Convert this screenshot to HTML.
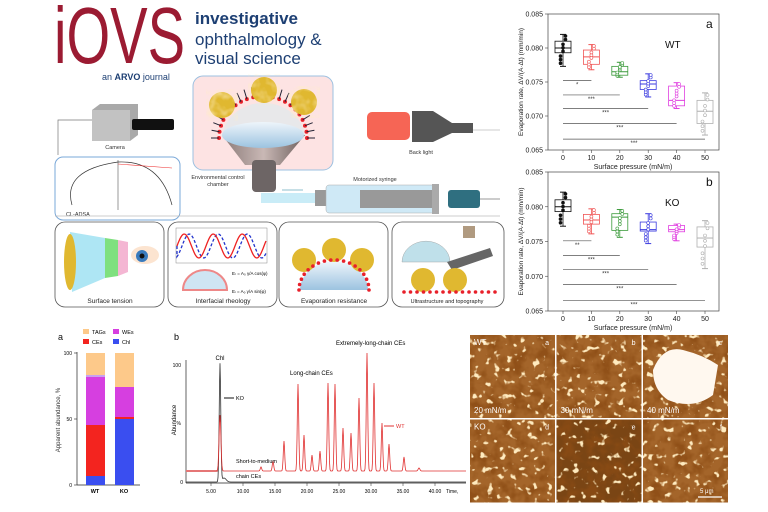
<!DOCTYPE html>
<html><head><meta charset="utf-8"><style>
html,body{margin:0;padding:0;background:#fff}
svg{display:block}
text{font-family:"Liberation Sans",sans-serif}
</style></head><body>
<svg id="s" width="768" height="512" viewBox="0 0 768 512" xmlns="http://www.w3.org/2000/svg">
<defs>
<filter id="afm" x="0" y="0" width="100%" height="100%" color-interpolation-filters="sRGB">
<feTurbulence type="fractalNoise" baseFrequency="0.08" numOctaves="3" seed="3"/>
<feColorMatrix type="matrix" values="0 0 0 0 0.55  0 0 0 0 0.3  0 0 0 0 0.08  3 0 0 0 -1.2"/>
</filter>
<filter id="afm2" x="0" y="0" width="100%" height="100%" color-interpolation-filters="sRGB">
<feTurbulence type="fractalNoise" baseFrequency="0.15" numOctaves="2" seed="11"/>
<feColorMatrix type="matrix" values="0 0 0 0 1  0 0 0 0 0.92  0 0 0 0 0.75  9 0 0 0 -5.6"/>
</filter>
<filter id="tex"><feTurbulence type="fractalNoise" baseFrequency="0.12" numOctaves="2" seed="7"/>
<feColorMatrix type="matrix" values="0 0 0 0 1  0 0 0 0 0.85  0 0 0 0 0.55  2.2 0 0 0 -0.9"/></filter>
<linearGradient id="drop" x1="0" y1="0" x2="0" y2="1"><stop offset="0" stop-color="#eef5fb"/><stop offset="1" stop-color="#9cc3e0"/></linearGradient>
<linearGradient id="funnel" x1="0" y1="0" x2="1" y2="0"><stop offset="0" stop-color="#8a7a78"/><stop offset="0.5" stop-color="#c9b8b5"/><stop offset="1" stop-color="#6d5f5d"/></linearGradient>
</defs>
<g id="g"></g>
<text x="54" y="63" font-size="80" fill="#9b1b32" textLength="131" lengthAdjust="spacingAndGlyphs">iOVS</text>
<text x="195" y="24" font-size="17" font-weight="bold" fill="#1d3f73">investigative</text>
<text x="195" y="45" font-size="17" fill="#1d3f73">ophthalmology &amp;</text>
<text x="195" y="64" font-size="17" fill="#1d3f73">visual science</text>
<text x="102" y="80" font-size="9" fill="#1d3f73">an <tspan font-weight="bold">ARVO</tspan> journal</text>
</svg>
<script>
const g=document.getElementById('g');let h='';
function add(s){h+=s}
add('<rect x="193" y="76" width="140" height="94" rx="10" fill="#fde3e3" stroke="#9cc0e0"/>');
add('<path d="M222,135 Q262,118 305,135 L280,165 L245,165 Z" fill="url(#funnel)"/>');
add('<rect x="252" y="160" width="24" height="32" rx="4" fill="#6d6565"/>');
add('<path d="M222,135 A42,38 0 0 1 305,135 Z" fill="#e8e8ea"/>');
add('<ellipse cx="263" cy="135" rx="41" ry="13" fill="url(#drop)"/>');
for(let i=0;i<22;i++){let a=Math.PI*(1-i/21);let x=263+44*Math.cos(a),y=138-44*Math.sin(a)*0.95;add('<circle cx="'+x.toFixed(1)+'" cy="'+y.toFixed(1)+'" r="2" fill="#e8202a"/>');add('<line x1="'+x+'" y1="'+y+'" x2="'+(263+52*Math.cos(a))+'" y2="'+(138-52*Math.sin(a))+'" stroke="#223" stroke-width="1"/>')}
[[222,105],[264,90],[304,102]].forEach(p=>add('<circle cx="'+p[0]+'" cy="'+p[1]+'" r="13" fill="#e0b830"/><circle cx="'+p[0]+'" cy="'+p[1]+'" r="13" filter="url(#tex)" opacity=".6"/>'));
add('<text x="218" y="179" font-size="5.5" fill="#333" text-anchor="middle">Environmental control</text><text x="218" y="186" font-size="5.5" fill="#333" text-anchor="middle">chamber</text>');
add('<polyline points="58,155 58,120 92,120" fill="none" stroke="#777" stroke-width="0.7"/>');
add('<polygon points="92,110 100,104 138,104 138,135 130,141 92,141" fill="#a9a9a9"/><rect x="92" y="110" width="38" height="31" fill="#c2c2c2"/><rect x="132" y="119" width="42" height="11" rx="2" fill="#111"/>');
add('<text x="115" y="149" font-size="5.5" fill="#333" text-anchor="middle">Camera</text>');
add('<rect x="55" y="157" width="125" height="63" rx="8" fill="#fff" stroke="#7aa8d8"/>');
add('<path d="M72,205 Q62,170 118,162 Q160,160 172,205" fill="none" stroke="#333" stroke-width="0.7"/><line x1="118" y1="160" x2="118" y2="210" stroke="#333" stroke-width="0.5"/><line x1="118" y1="164" x2="172" y2="168" stroke="#e33" stroke-width="0.6"/>');
add('<text x="66" y="216" font-size="5.5" fill="#333">CL-ADSA</text>');
add('<rect x="367" y="112" width="43" height="28" rx="5" fill="#f66555"/><polygon points="412,111 433,111 452,123 473,123 473,133 452,133 433,142 412,142" fill="#555"/><line x1="473" y1="130" x2="500" y2="130" stroke="#999" stroke-width="0.5"/>');
add('<text x="421" y="154" font-size="5.5" fill="#333" text-anchor="middle">Back light</text>');
add('<text x="375" y="181" font-size="5.5" fill="#333" text-anchor="middle">Motorized syringe</text>');
add('<rect x="261" y="193" width="55" height="10" fill="#c9ecf7"/><line x1="282" y1="190" x2="303" y2="190" stroke="#6ab" stroke-width="0.7"/>');
add('<rect x="315" y="190" width="18" height="16" fill="#999"/><rect x="326" y="185" width="110" height="28" rx="3" fill="#cfe9f6" stroke="#aaa" stroke-width="0.5"/><rect x="360" y="190" width="76" height="18" fill="#999"/><rect x="432" y="184" width="7" height="30" fill="#aaa"/><rect x="448" y="190" width="32" height="18" rx="3" fill="#2f6f80"/><line x1="480" y1="199" x2="500" y2="199" stroke="#999"/>');
add('<line x1="55" y1="216" x2="500" y2="216" stroke="#bbb" stroke-width="0.8"/>');
const P=[[55,"Surface tension"],[168,"Interfacial rheology"],[279,"Evaporation resistance"],[392,"Ultrastructure and topography"]];
P.forEach((p,i)=>{add('<rect x="'+p[0]+'" y="222" width="'+(i==3?112:109)+'" height="85" rx="10" fill="#fff" stroke="#555" stroke-width="0.8"/>');add('<text x="'+(p[0]+55)+'" y="303" font-size="'+(i==3?5.5:6.5)+'" fill="#222" text-anchor="middle">'+p[1]+'</text>')});
add('<path d="M70,232 L105,238 L105,278 L72,292 Z" fill="#aee6f4"/><path d="M105,238 L118,240 L118,276 L105,278Z" fill="#7fe07f"/><path d="M118,240 L128,242 L128,272 L118,276Z" fill="#f4b6d3"/><ellipse cx="70" cy="262" rx="6" ry="28" fill="#e0b830"/><ellipse cx="145" cy="255" rx="14" ry="9" fill="#fce4d0"/><circle cx="142" cy="256" r="6" fill="#3a7bbd"/><circle cx="142" cy="256" r="2.5" fill="#111"/>');
let sw='M177,246',sw2='M177,246';for(let x=177;x<=266;x++){sw+=' L'+x+','+(246-12*Math.sin((x-177)/14.5*Math.PI)).toFixed(1);sw2+=' L'+x+','+(246-12*Math.sin((x-177-5)/14.5*Math.PI)).toFixed(1)}
add('<rect x="176" y="228" width="91" height="35" fill="none" stroke="#888" stroke-width="0.5"/><path d="'+sw2+'" fill="none" stroke="#23c" stroke-dasharray="3,2" stroke-width="1.3"/><path d="'+sw+'" fill="none" stroke="#e22" stroke-width="1.3"/>');
add('<path d="M183,290 A22,20 0 0 1 227,290 Z" fill="#cfe5f3" stroke="#e88" stroke-width="2"/><text x="232" y="275" font-size="4.5">E<tspan font-size="3">r</tspan> = A₀ γ/A cos(φ)</text><text x="232" y="293" font-size="4.5">E<tspan font-size="3">i</tspan> = A₀ γ/A sin(φ)</text>');
add('<path d="M300,290 A33,28 0 0 1 368,290 Z" fill="url(#drop)"/>');
[[304,260],[334,250],[362,260]].forEach(p=>add('<circle cx="'+p[0]+'" cy="'+p[1]+'" r="12" fill="#e0b830"/>'));
for(let i=0;i<18;i++){let a=Math.PI*(1-i/17);add('<circle cx="'+(334+35*Math.cos(a)).toFixed(1)+'" cy="'+(290-30*Math.sin(a)).toFixed(1)+'" r="1.8" fill="#e8202a"/>')}
add('<path d="M402,262 A23,20 0 0 1 450,262 Z" fill="#bfe0ea" stroke="#999" stroke-width="0.4"/><rect x="463" y="226" width="12" height="12" fill="#b09a80"/><polygon points="447,262 490,248 493,256 452,270" fill="#666"/>');
[[423,280],[455,280]].forEach(p=>add('<circle cx="'+p[0]+'" cy="'+p[1]+'" r="12" fill="#e0b830"/>'));
for(let x=404;x<=498;x+=6.5)add('<circle cx="'+x+'" cy="292" r="1.8" fill="#e8202a"/>');
function chart(y0,y1,data,lab,name,sig,stars){
 const X=v=>563+v*2.84, Y=v=>y0+(0.085-v)/0.02*(y1-y0);
 add('<rect x="548" y="'+y0+'" width="171" height="'+(y1-y0)+'" fill="none" stroke="#444" stroke-width="0.7"/>');
 [0.085,0.080,0.075,0.070,0.065].forEach(v=>{add('<line x1="548" y1="'+Y(v)+'" x2="545" y2="'+Y(v)+'" stroke="#444" stroke-width="0.6"/><text x="543" y="'+(Y(v)+2.5)+'" font-size="7" text-anchor="end" fill="#222">'+v.toFixed(3)+'</text>')});
 [0,10,20,30,40,50].forEach(t=>{add('<line x1="'+X(t)+'" y1="'+y1+'" x2="'+X(t)+'" y2="'+(y1+3)+'" stroke="#444" stroke-width="0.6"/><text x="'+X(t)+'" y="'+(y1+10)+'" font-size="7" text-anchor="middle" fill="#222">'+t+'</text>')});
 add('<text x="633" y="'+(y1+19)+'" font-size="7" text-anchor="middle" fill="#222">Surface pressure (mN/m)</text>');
 add('<text transform="translate(523,'+((y0+y1)/2)+') rotate(-90)" font-size="6.5" text-anchor="middle" fill="#222">Evaporation rate, ΔV/(A·Δt) (mm/min)</text>');
 add('<text x="706" y="'+(y0+14)+'" font-size="12" fill="#111">'+lab+'</text><text x="665" y="'+(y0+34)+'" font-size="10" fill="#111">'+name+'</text>');
 const C=['#111','#f05555','#3a9a3a','#3b3be0','#e040e0','#b0b0b0'];
 data.forEach((d,i)=>{const x=X(i*10),c=C[i];
  add('<line x1="'+x+'" y1="'+Y(d[4])+'" x2="'+x+'" y2="'+Y(d[0])+'" stroke="'+c+'" stroke-width="0.8"/><line x1="'+(x-3)+'" y1="'+Y(d[4])+'" x2="'+(x+3)+'" y2="'+Y(d[4])+'" stroke="'+c+'"/><line x1="'+(x-3)+'" y1="'+Y(d[0])+'" x2="'+(x+3)+'" y2="'+Y(d[0])+'" stroke="'+c+'"/>');
  add('<rect x="'+(x-8)+'" y="'+Y(d[3])+'" width="16" height="'+(Y(d[1])-Y(d[3]))+'" fill="#fff" stroke="'+c+'" stroke-width="0.8"/><line x1="'+(x-8)+'" y1="'+Y(d[2])+'" x2="'+(x+8)+'" y2="'+Y(d[2])+'" stroke="'+c+'"/>');
  for(let k=0;k<8;k++){const v=d[0]+(d[4]-d[0])*((k*0.37+0.1)%1);add('<circle cx="'+(x+((k%3)-1)*2.5)+'" cy="'+Y(v).toFixed(1)+'" r="1.5" fill="'+(i==0?c:'#fff')+'" stroke="'+c+'" stroke-width="0.6"/>')}
 });
 sig.forEach((v,i)=>{add('<line x1="'+X(0)+'" y1="'+Y(v)+'" x2="'+X((i+1)*10)+'" y2="'+Y(v)+'" stroke="#555" stroke-width="0.7"/><text x="'+((X(0)+X((i+1)*10))/2)+'" y="'+(Y(v)+6)+'" font-size="6" text-anchor="middle" fill="#333">'+stars[i]+'</text>')});
}
chart(14,150,[[0.0773,0.0793,0.0800,0.0810,0.0820],[0.0768,0.0776,0.0787,0.0797,0.0805],[0.0757,0.0760,0.0765,0.0773,0.0779],[0.0728,0.0739,0.0747,0.0752,0.0762],[0.0711,0.0715,0.0723,0.0744,0.0749],[0.0672,0.0689,0.0707,0.0723,0.0734]],'a','WT',[0.0752,0.0731,0.0711,0.0689,0.0666],['*','***','***','***','***']);
chart(172,311,[[0.0772,0.0793,0.0800,0.0810,0.0821],[0.0761,0.0775,0.0781,0.0789,0.0797],[0.0756,0.0766,0.0785,0.0790,0.0796],[0.0747,0.0765,0.0767,0.0778,0.0790],[0.0751,0.0764,0.0767,0.0773,0.0775],[0.0711,0.0742,0.0755,0.0771,0.0780]],'b','KO',[0.0751,0.0730,0.0710,0.0688,0.0665],['**','***','***','***','***']);
add('<text x="58" y="340" font-size="9" fill="#111">a</text>');
add('<rect x="83" y="329" width="6" height="5" fill="#fdc98a"/><text x="92" y="334" font-size="5.5">TAGs</text><rect x="113" y="329" width="6" height="5" fill="#d63fe0"/><text x="122" y="334" font-size="5.5">WEs</text>');
add('<rect x="83" y="339" width="6" height="5" fill="#f3241f"/><text x="92" y="344" font-size="5.5">CEs</text><rect x="113" y="339" width="6" height="5" fill="#3a4ef0"/><text x="122" y="344" font-size="5.5">Chl</text>');
add('<line x1="77" y1="352" x2="77" y2="485" stroke="#222" stroke-width="0.7"/><line x1="77" y1="485" x2="140" y2="485" stroke="#222" stroke-width="0.7"/>');
[[353,'100'],[419,'50'],[485,'0']].forEach(t=>add('<line x1="74" y1="'+t[0]+'" x2="77" y2="'+t[0]+'" stroke="#222" stroke-width="0.6"/><text x="72" y="'+(t[0]+2)+'" font-size="5" text-anchor="end">'+t[1]+'</text>'));
add('<text transform="translate(60,420) rotate(-90)" font-size="6" text-anchor="middle" fill="#333">Apparent abundance, %</text>');
function bar(x,segs){segs.forEach(s=>add('<rect x="'+x+'" y="'+s[0]+'" width="19" height="'+(s[1]-s[0])+'" fill="'+s[2]+'"/>'))}
bar(86,[[353,375,'#fdc98a'],[375,377,'#c9a0f0'],[377,425,'#d63fe0'],[425,476,'#f3241f'],[476,485,'#3a4ef0']]);
bar(115,[[353,387,'#fdc98a'],[387,417,'#d63fe0'],[417,419,'#f3241f'],[419,485,'#3a4ef0']]);
add('<text x="95" y="493" font-size="5.5" text-anchor="middle" font-weight="bold">WT</text><text x="124" y="493" font-size="5.5" text-anchor="middle" font-weight="bold">KO</text>');
add('<text x="174" y="340" font-size="9">b</text>');
add('<line x1="186" y1="360" x2="186" y2="483" stroke="#222" stroke-width="0.7"/><line x1="186" y1="483" x2="466" y2="483" stroke="#222" stroke-width="0.7"/>');
add('<text x="181" y="367" font-size="5" text-anchor="end">100</text><text x="183" y="484" font-size="5" text-anchor="end">0</text><text transform="translate(176,420) rotate(-90)" font-size="6" text-anchor="middle">Abundance</text><text x="181" y="425" font-size="5" text-anchor="end">%</text>');
for(let t=5;t<=40;t+=5){const x=435-(40-t)*6.4;add('<line x1="'+x+'" y1="483" x2="'+x+'" y2="486" stroke="#222" stroke-width="0.5"/><text x="'+x+'" y="493" font-size="5" text-anchor="middle">'+t.toFixed(2)+'</text>')}
add('<text x="446" y="493" font-size="5">Time,</text>');
const pk=[[220,415,1.3],[261,467,1],[273,461,1],[284,441,1],[298,384,1],[304,435,1],[312,455,1],[320,451,1],[328,383,1],[335,384,1],[343,428,1],[351,433,1],[359,398,1],[367,353,1],[374,383,1],[382,423,1],[389,444,1],[404,457,1],[419,468,1.2]];
let wt='M186,471';for(let x=186;x<=466;x+=0.5){let y=471;pk.forEach(p=>{y-= (471-p[1])*Math.exp(-Math.pow((x-p[0])/p[2],2))});wt+=' L'+x+','+y.toFixed(1)}
let ko='M186,482';for(let x=186;x<=466;x+=0.5){let y=482-118*Math.exp(-Math.pow((x-220)/1.1,2))-4*Math.exp(-Math.pow((x-224)/3,2));ko+=' L'+x+','+y.toFixed(1)}
add('<line x1="186" y1="471" x2="218" y2="471" stroke="#e8a0a0" stroke-width="2"/><path d="'+ko+'" fill="none" stroke="#333" stroke-width="0.8"/><path d="'+wt+'" fill="none" stroke="#e03030" stroke-width="0.8"/>');
add('<text x="220" y="360" font-size="6" text-anchor="middle">Chl</text><text x="236" y="400" font-size="5.5">KO</text><line x1="224" y1="398" x2="234" y2="398" stroke="#111"/>');
add('<text x="236" y="463" font-size="5.5">Short-to-medium</text><text x="236" y="478" font-size="5.5">chain CEs</text>');
add('<text x="290" y="375" font-size="6">Long-chain CEs</text><text x="336" y="345" font-size="6">Extremely-long-chain CEs</text><text x="396" y="428" font-size="5.5" fill="#e03030">WT</text><line x1="384" y1="426" x2="394" y2="426" stroke="#e03030"/>');
const L=[['WT','a','20 mN/m'],['','b','30 mN/m'],['','c','40 mN/m'],['KO','d',''],['','e',''],['','f','']];
for(let r=0;r<2;r++)for(let c=0;c<3;c++){const x=470+c*86.5,y=335+r*84.5,l=L[r*3+c],n=r*3+c;
 add('<rect x="'+x+'" y="'+y+'" width="85" height="83" fill="'+(n==4?'#7a4514':'#a4652a')+'"/>');
 add('<rect x="'+x+'" y="'+y+'" width="85" height="83" filter="url(#afm)" opacity="0.8"/>');
 add('<rect x="'+x+'" y="'+y+'" width="85" height="83" filter="url(#afm2)"/>');
 if(n==2)add('<path d="M'+(x+10)+','+(y+35)+' q10,-25 30,-20 q20,5 35,15 l-5,30 q-20,15 -45,5 q-15,-10 -15,-30z" fill="#fff8ef"/>');
 add('<text x="'+(x+4)+'" y="'+(y+10)+'" font-size="8" fill="#fff">'+l[0]+'</text><text x="'+(x+79)+'" y="'+(y+10)+'" font-size="7" fill="#fff" text-anchor="end">'+l[1]+'</text><text x="'+(x+4)+'" y="'+(y+78)+'" font-size="8" fill="#fff">'+l[2]+'</text>');}
add('<text x="700" y="493" font-size="6" fill="#fff">5 μm</text><line x1="698" y1="497" x2="722" y2="497" stroke="#fff" stroke-width="1.2"/>');
g.innerHTML=h;
</script>
</body></html>
